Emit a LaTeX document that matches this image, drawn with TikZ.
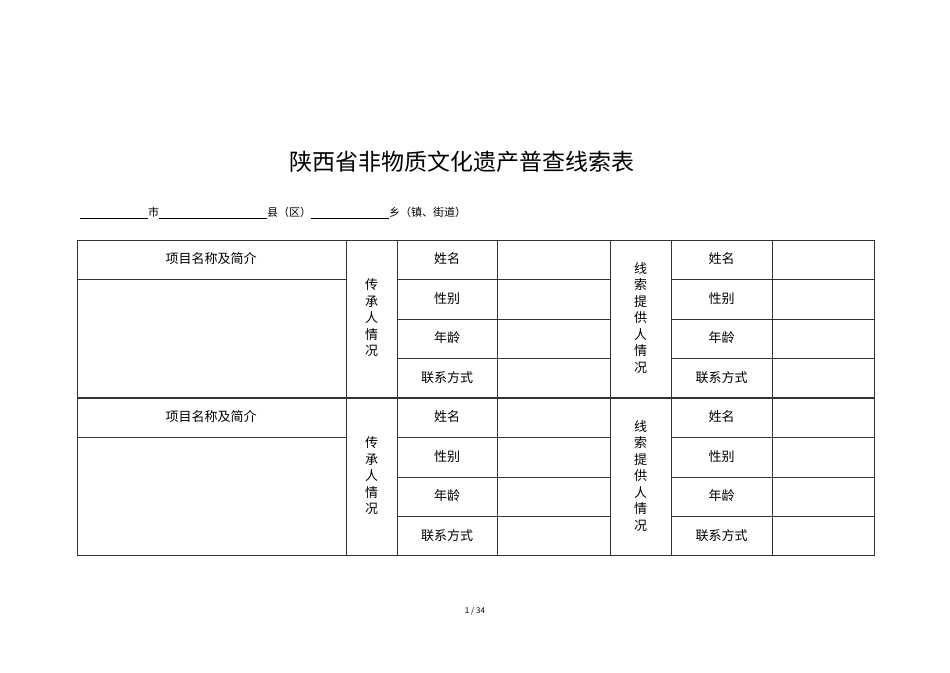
\documentclass[tikz,border=0pt]{standalone}
\usepackage{fontspec}
\setmainfont{Noto Sans CJK SC}
\begin{document}
\begin{tikzpicture}[x=1pt,y=-1pt,
  ln/.style={line width=0.7pt,black!80},
  cell/.style={font=\fontsize{13}{14}\selectfont,inner sep=0pt},
  vert/.style={font=\fontsize{13}{16.5}\selectfont,align=center,inner sep=0pt}]
\useasboundingbox (0,0) rectangle (950,672);
\node[inner sep=0pt,font=\fontsize{23}{26}\selectfont] (title) at (462,162) {陕西省非物质文化遗产普查线索表};
\node[anchor=west,inner sep=0pt,font=\fontsize{11}{12}\selectfont] (sub) at (80,213) {\rule[-1.5pt]{68pt}{0.5pt}市\rule[-1.5pt]{108pt}{0.5pt}县（区）\rule[-1.5pt]{78pt}{0.5pt}乡（镇、街道）};
\node[inner sep=0pt,font=\fontsize{8}{9}\selectfont] (pg) at (475,611) {1 / 34};
\foreach \t in {240,398}{
  \begin{scope}[yshift=-\t pt]
  \draw[ln] (77,0) rectangle (874,157);
  \draw[ln] (77,39) -- (346,39);
  \foreach \x in {346,397,497,610,671,772} \draw[ln] (\x,0) -- (\x,157);
  \foreach \y in {39,79,118} {\draw[ln] (397,\y) -- (610,\y); \draw[ln] (671,\y) -- (874,\y);}
  \node[cell] (a\t) at (211,19) {项目名称及简介};
  \node[vert] (b\t) at (371.5,78) {传\\承\\人\\情\\况};
  \node[vert] (c\t) at (640.5,78) {线\\索\\提\\供\\人\\情\\况};
  \foreach \l/\y [count=\i] in {姓名/19,性别/59,年龄/98,联系方式/138}{
    \node[cell] (l\t\i) at (447,\y) {\l};
    \node[cell] (r\t\i) at (721.5,\y) {\l};}
  \end{scope}}
\end{tikzpicture}
\end{document}
